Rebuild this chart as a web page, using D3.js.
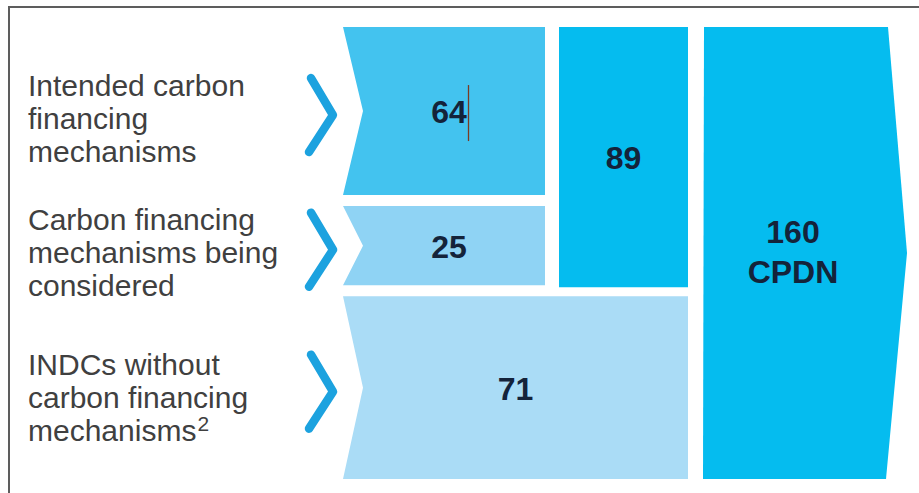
<!DOCTYPE html>
<html>
<head>
<meta charset="utf-8">
<script src="https://cdn.jsdelivr.net/npm/d3@7"></script>
<style>
  html, body { margin: 0; padding: 0; background: #fff; }
  svg { display: block; font-family: "Liberation Sans", Arial, Helvetica, sans-serif; }
</style>
</head>
<body>
<svg id="chart" width="919" height="493"></svg>
<script>
// Categories of INDCs (intended nationally determined contributions)
const categories = [
  "Intended carbon financing mechanisms",
  "Carbon financing mechanisms being considered",
  "INDCs without carbon financing mechanisms"
];
// Wrapped label lines for each category
const labelLines = [
  ["Intended carbon", "financing", "mechanisms"],
  ["Carbon financing", "mechanisms being", "considered"],
  ["INDCs without", "carbon financing", "mechanisms"]
];
const footnotes = ["", "", "2"];
// Number of countries in each category
const counts = [64, 25, 71];
// Categories that mention carbon financing (first two rows)
const financingRows = [0, 1];
const totalLabel = "CPDN";

// Layout
const W = 919, H = 493;
const yTop = 27, yBottom = 479, gap = 11;
const cols = { rowStart: 343, rowEnd: 545, subStart: 559, subEnd: 688, totStart: 704, totEnd: 888, tip: 907 };
const notch = 20;

const rowFill = ["#43c3ef", "#8fd3f4", "#aadcf6"];
const sumFill = "#05bcef";
const chevronColor = "#1ca2df";
const labelColor = "#404040";
const numberColor = "#14233a";

const svg = d3.select("#chart");

// Frame
svg.append("rect")
  .attr("x", 9).attr("y", 7)
  .attr("width", W + 10).attr("height", H + 10)
  .attr("fill", "none").attr("stroke", "#5d5d5d").attr("stroke-width", 2);

// Row heights: compressed power scale of the counts, fitted to the available height
const rowSize = d3.scalePow().exponent(0.8).domain([0, 1]).range([0, 1]);
const weights = counts.map(c => rowSize(c));
const hScale = d3.scaleLinear()
  .domain([0, d3.sum(weights)])
  .range([0, yBottom - yTop - gap * (counts.length - 1)]);

const rows = counts.map((c, i) => {
  const y0 = yTop + hScale(d3.sum(weights.slice(0, i))) + gap * i;
  const h = hScale(weights[i]);
  return { i, value: c, y0, y1: y0 + h, mid: y0 + h / 2 };
});

const subtotal = d3.sum(financingRows, i => counts[i]);
const total = d3.sum(counts);

const line = d3.line();

// Category blocks with a notched left edge
rows.forEach(r => {
  const x0 = cols.rowStart;
  const x1 = r.i === 2 ? cols.subEnd : cols.rowEnd;
  svg.append("path")
    .attr("d", line([[x0, r.y0], [x1, r.y0], [x1, r.y1], [x0, r.y1], [x0 + notch, r.mid]]) + "Z")
    .attr("fill", rowFill[r.i]);
});

// Subtotal block spanning the financing rows
const subTop = rows[financingRows[0]].y0;
const subBottom = rows[financingRows[financingRows.length - 1]].y1 + 2;
svg.append("path")
  .attr("d", line([[cols.subStart, subTop], [cols.subEnd, subTop], [cols.subEnd, subBottom], [cols.subStart, subBottom]]) + "Z")
  .attr("fill", sumFill);

// Total block with arrow-shaped right edge
const totTop = rows[0].y0, totBottom = rows[rows.length - 1].y1;
const totMid = (totTop + totBottom) / 2;
svg.append("path")
  .attr("d", line([[cols.totStart, totTop], [cols.totEnd, totTop], [cols.tip, totMid], [cols.totEnd - 2, totBottom], [cols.totStart - 1, totBottom]]) + "Z")
  .attr("fill", sumFill);

// Chevrons
rows.forEach(r => {
  const c = r.mid + 4;
  svg.append("path")
    .attr("d", line([[311, c - 37], [333, c], [309, c + 37]]))
    .attr("fill", "none")
    .attr("stroke", chevronColor)
    .attr("stroke-width", 8.5)
    .attr("stroke-linecap", "round")
    .attr("stroke-linejoin", "round");
});

// Category labels
const lh = 33;
const labelOffset = [7.5, 7, 10];
rows.forEach(r => {
  const lines = labelLines[r.i];
  const firstBase = r.mid + labelOffset[r.i] - ((lines.length - 1) * lh - 21) / 2;
  const t = svg.append("text")
    .attr("x", 28)
    .attr("y", firstBase)
    .attr("fill", labelColor)
    .attr("font-size", 30);
  lines.forEach((ln, k) => {
    t.append("tspan").attr("x", 28).attr("y", firstBase + k * lh).text(ln);
    if (k === lines.length - 1 && footnotes[r.i]) {
      t.append("tspan")
        .attr("dx", 1)
        .attr("dy", -10)
        .attr("font-size", 21)
        .text(footnotes[r.i]);
    }
  });
});

// Values
const numStyle = sel => sel
  .attr("fill", numberColor)
  .attr("font-size", 32)
  .attr("font-weight", "bold")
  .attr("text-anchor", "middle");

rows.forEach(r => {
  const x0 = cols.rowStart + notch;
  const x1 = r.i === 2 ? cols.subEnd : cols.rowEnd;
  const t = svg.append("text")
    .attr("x", r.i === 2 ? (cols.rowStart + x1) / 2 : (x0 + x1) / 2 - 5)
    .attr("y", r.mid + 12)
    .text(r.value)
    .call(numStyle);
  if (r.i === 0) {
    // text cursor left after the first value
    const bb = t.node().getBBox();
    svg.append("line")
      .attr("x1", bb.x + bb.width + 1.5).attr("x2", bb.x + bb.width + 1.5)
      .attr("y1", r.mid - 26).attr("y2", r.mid + 30)
      .attr("stroke", "#7b3b22").attr("stroke-width", 1.3);
  }
});

svg.append("text")
  .attr("x", (cols.subStart + cols.subEnd) / 2)
  .attr("y", (subTop + subBottom) / 2 + 12)
  .text(subtotal)
  .call(numStyle);

svg.append("text")
  .attr("x", (cols.totStart + cols.totEnd) / 2 - 3)
  .attr("y", totMid - 10)
  .text(total)
  .call(numStyle);
svg.append("text")
  .attr("x", (cols.totStart + cols.totEnd) / 2 - 3)
  .attr("y", totMid + 30)
  .text(totalLabel)
  .call(numStyle);
</script>
</body>
</html>
